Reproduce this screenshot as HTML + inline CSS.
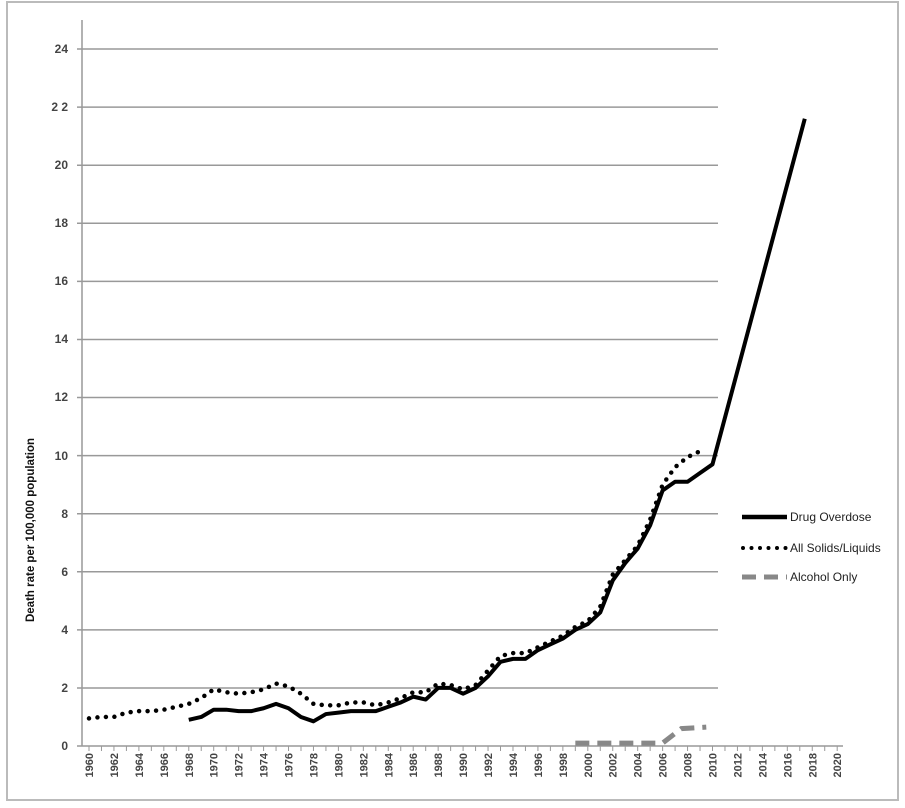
<!DOCTYPE html>
<html><head><meta charset="utf-8"><style>
html,body{margin:0;padding:0;background:#fff;}
svg{display:block;font-family:"Liberation Sans",sans-serif;}
</style></head><body>
<svg width="905" height="808" viewBox="0 0 905 808">
<rect x="7" y="2" width="891" height="798" fill="#fff" stroke="#bbb" stroke-width="2"/>
<g stroke="#999" stroke-width="1.5">
<line x1="77" y1="49" x2="718" y2="49"/>
<line x1="77" y1="107.1" x2="718" y2="107.1"/>
<line x1="77" y1="165.2" x2="718" y2="165.2"/>
<line x1="77" y1="223.3" x2="718" y2="223.3"/>
<line x1="77" y1="281.4" x2="718" y2="281.4"/>
<line x1="77" y1="339.5" x2="718" y2="339.5"/>
<line x1="77" y1="397.5" x2="718" y2="397.5"/>
<line x1="77" y1="455.6" x2="718" y2="455.6"/>
<line x1="77" y1="513.7" x2="718" y2="513.7"/>
<line x1="77" y1="571.8" x2="718" y2="571.8"/>
<line x1="77" y1="629.9" x2="718" y2="629.9"/>
<line x1="77" y1="688" x2="718" y2="688"/>
<line x1="77" y1="746" x2="843" y2="746"/>
<line x1="82" y1="20" x2="82" y2="746"/>
</g>
<g stroke="#999" stroke-width="1" id="ticks"></g>
<g font-size="12" fill="#444" font-weight="bold" text-anchor="end">
<text x="68" y="53">24</text><text x="68" y="111">2 2</text><text x="68" y="169">20</text>
<text x="68" y="227">18</text><text x="68" y="285">16</text><text x="68" y="343">14</text>
<text x="68" y="401">12</text><text x="68" y="460">10</text><text x="68" y="518">8</text>
<text x="68" y="576">6</text><text x="68" y="634">4</text><text x="68" y="692">2</text>
<text x="68" y="750">0</text>
</g>
<text transform="translate(34,530) rotate(-90)" text-anchor="middle" font-size="11.5" font-weight="bold" fill="#111">Death rate per 100,000 population</text>
<g id="xl" font-size="11" font-weight="bold" fill="#444" text-anchor="end"></g>
<g transform="translate(89,746) scale(12.47,-29.04)" fill="none">
<polyline vector-effect="non-scaling-stroke" stroke="#000" stroke-width="4.5" stroke-linecap="round" stroke-dasharray="0 8.5" points="0,0.95 1,1 2,1 3,1.15 4,1.2 5,1.2 6,1.25 7,1.35 8,1.45 9,1.65 10,1.95 11,1.85 12,1.8 13,1.85 14,1.95 15,2.15 16,2.05 17,1.8 18,1.45 19,1.4 20,1.4 21,1.5 22,1.5 23,1.4 24,1.5 25,1.65 26,1.85 27,1.85 28,2.15 29,2.1 30,1.95 31,2.1 32,2.6 33,3.1 34,3.2 35,3.2 36,3.4 37,3.6 38,3.8 39,4.1 40,4.3 41,4.8 42,5.9 43,6.4 44,6.9 45,7.8 46,9.0 47,9.6 48,9.95 49,10.15"/>
<polyline vector-effect="non-scaling-stroke" stroke="#000" stroke-width="4" stroke-linejoin="round" points="8,0.9 9,1.0 10,1.25 11,1.25 12,1.2 13,1.2 14,1.3 15,1.45 16,1.3 17,1.0 18,0.85 19,1.1 20,1.15 21,1.2 22,1.2 23,1.2 24,1.35 25,1.5 26,1.7 27,1.6 28,2.0 29,2.0 30,1.8 31,2.0 32,2.4 33,2.9 34,3.0 35,3.0 36,3.3 37,3.5 38,3.7 39,4.0 40,4.2 41,4.6 42,5.7 43,6.3 44,6.8 45,7.6 46,8.8 47,9.1 48,9.1 49,9.4 50,9.7 57.4,21.6"/>
<polyline vector-effect="non-scaling-stroke" stroke="#888" stroke-width="5" stroke-dasharray="14 8" points="39,0.1 46,0.1 47.5,0.6 49.5,0.65"/>
</g>
<line x1="742" y1="517" x2="787" y2="517" stroke="#000" stroke-width="4.5"/>
<line x1="743" y1="548" x2="787" y2="548" stroke="#000" stroke-width="4" stroke-linecap="round" stroke-dasharray="0 8.5"/>
<line x1="742" y1="577" x2="787" y2="577" stroke="#888" stroke-width="5" stroke-dasharray="14 8"/>
<g font-size="12" fill="#222">
<text x="790" y="521">Drug Overdose</text>
<text x="790" y="552">All Solids/Liquids</text>
<text x="790" y="581">Alcohol Only</text>
</g>
<script>
var t=document.getElementById('ticks'),xl=document.getElementById('xl'),ns='http://www.w3.org/2000/svg';
for(var y=1960;y<=2020;y++){var x=89+12.47*(y-1960);var l=document.createElementNS(ns,'line');
l.setAttribute('x1',x);l.setAttribute('x2',x);l.setAttribute('y1',746);l.setAttribute('y2',751);t.appendChild(l);
if(y%2==0){var s=document.createElementNS(ns,'text');s.setAttribute('transform','translate('+(x+4)+',753) rotate(-90)');s.textContent=y;xl.appendChild(s);}}
</script>
</svg>
</body></html>
